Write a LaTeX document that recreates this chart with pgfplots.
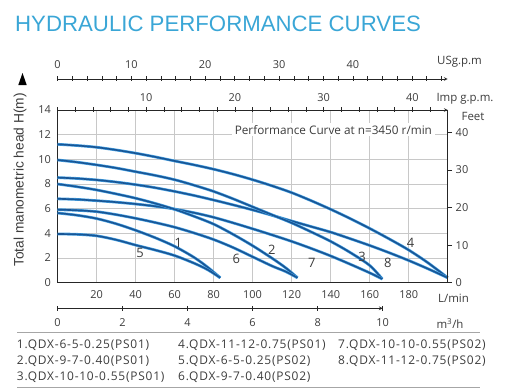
\documentclass[border=0pt]{standalone}
\usepackage{pgfplots}
\pgfplotsset{compat=1.18}
\usepackage{fontspec}
\setmainfont{Open Sans}
\newfontfamily\arialf{Liberation Sans}
\newfontfamily\legfont{Open Sans}[LetterSpace=6.5]
\definecolor{titleblue}{RGB}{58,166,214}
\definecolor{curvedark}{RGB}{24,86,150}
\definecolor{curvelight}{RGB}{70,160,225}
\definecolor{txtgray}{RGB}{60,60,60}
\definecolor{gridgray}{RGB}{200,200,200}
\pgfplotsset{
  curve/.style={draw=curvedark, line width=1.6bp, smooth, tension=0.5, no markers,
    preaction={draw=curvelight, line width=2.8bp}},
  sec/.style={scale only axis, axis y line=none, ymin=0, ymax=1, height=2bp,
    axis line style={-, line width=0.7bp, black!85}, tick align=outside,
    major tick length=5bp, minor tick length=5bp,
    tick style={line width=0.6bp, black!85},
    /pgf/number format/assume math mode=true,
    tick label style={font=\fontsize{11}{12}\selectfont, text=txtgray}},
}
\begin{document}
\begin{tikzpicture}[x=1bp,y=1bp]
\useasboundingbox (0,0) rectangle (509,388);
% title
\node[anchor=base west, font=\arialf\fontsize{22.3}{24}\selectfont, text=titleblue, inner sep=0] at (15,356.3) {HYDRAULIC PERFORMANCE CURVES};

% main axis
\begin{axis}[
  at={(57.5bp,105.3bp)}, anchor=south west,
  width=390.2bp, height=172.7bp, scale only axis,
  xmin=0, xmax=200, ymin=0, ymax=14,
  xtick={0,20,...,200},
  xticklabels={{},20,40,60,80,100,120,140,160,180,{}},
  ytick={0,2,...,14},
  grid=major, grid style={gridgray, line width=0.6bp},
  major tick length=0pt,
  axis line style={line width=0.8bp, black!85},
  tick label style={font=\fontsize{11}{12}\selectfont, text=txtgray},
  /pgf/number format/assume math mode=true,
  xticklabel style={yshift=-4bp},
  yticklabel style={xshift=-3bp},
  clip=false,
]
% 4
\addplot[curve] coordinates {(0,11.22)(10,11.12)(20,10.98)(30,10.76)(40,10.5)(50,10.2)(60,9.87)(70,9.55)(80,9.2)(90,8.8)(100,8.35)(110,7.85)(120,7.3)(130,6.65)(140,5.95)(150,5.2)(160,4.4)(170,3.55)(180,2.65)(190,1.6)(200,0.4)};
% 8
\addplot[curve] coordinates {(0,8.52)(10,8.45)(20,8.33)(30,8.16)(40,7.95)(50,7.7)(60,7.4)(70,7.07)(80,6.7)(90,6.31)(100,5.9)(110,5.46)(120,5.0)(130,4.55)(140,4.1)(150,3.57)(160,3.02)(170,2.43)(180,1.8)(190,1.12)(200,0.4)};
% 3
\addplot[curve] coordinates {(0,9.95)(10,9.77)(20,9.55)(30,9.3)(40,9.0)(50,8.7)(60,8.35)(70,7.9)(80,7.4)(90,6.8)(100,6.15)(110,5.5)(120,4.85)(130,4.12)(140,3.35)(150,2.45)(160,1.4)(166.5,0.3)};
% 7
\addplot[curve] coordinates {(0,6.8)(10,6.75)(20,6.65)(30,6.53)(40,6.38)(50,6.2)(60,5.97)(70,5.67)(80,5.3)(90,4.85)(100,4.37)(110,3.87)(120,3.35)(130,2.78)(140,2.17)(150,1.5)(160,0.8)(166.5,0.3)};
% 2
\addplot[curve] coordinates {(0,8.0)(10,7.78)(20,7.52)(30,7.2)(40,6.85)(50,6.43)(60,5.95)(70,5.38)(80,4.75)(90,3.92)(100,3.0)(110,1.98)(117,1.2)(123,0.4)};
% 6
\addplot[curve] coordinates {(0,5.92)(10,5.87)(20,5.76)(30,5.52)(40,5.22)(50,4.88)(60,4.5)(70,4.03)(80,3.5)(90,2.85)(100,2.1)(110,1.35)(117,0.9)(123,0.4)};
% 1
\addplot[curve] coordinates {(0,5.65)(10,5.47)(20,5.2)(30,4.78)(40,4.25)(50,3.65)(60,2.95)(70,2.05)(77,1.25)(83.4,0.4)};
% 5
\addplot[curve] coordinates {(0,3.95)(10,3.92)(20,3.8)(30,3.48)(40,3.05)(50,2.65)(60,2.2)(70,1.58)(77,1.05)(83.4,0.4)};
\begin{scope}[every node/.style={font=\fontsize{13}{13}\selectfont, text=txtgray}]
\node at (axis cs:61.9,3.22) {1};
\node at (axis cs:42.3,2.38) {5};
\node at (axis cs:91.6,1.9) {6};
\node at (axis cs:109.9,2.65) {2};
\node at (axis cs:130.4,1.57) {7};
\node at (axis cs:156.1,2.1) {3};
\node at (axis cs:169.3,1.57) {8};
\node at (axis cs:181,3.25) {4};
\end{scope}
\node[fill=white, inner xsep=3bp, inner ysep=2bp, font=\fontsize{11.8}{12}\selectfont, text=txtgray] at (axis cs:141.4,12.4) {Performance Curve at n=3450 r/min};
\end{axis}

% feet axis
\begin{axis}[
  at={(57.5bp,105.3bp)}, anchor=south west,
  width=390.2bp, height=172.7bp, scale only axis,
  xmin=0, xmax=200, ymin=0, ymax=45.93,
  axis x line=none, axis y line=right,
  axis line style={-, line width=0.8bp, black!85},
  ytick={0,10,...,40}, tick align=outside, major tick length=4.5bp,
  tick style={line width=0.6bp, black!85},
  tick label style={font=\fontsize{11}{12}\selectfont, text=txtgray},
  /pgf/number format/assume math mode=true,
]
\end{axis}

% USgpm axis
\begin{axis}[sec, at={(57.5bp,309bp)}, anchor=north west, width=390.2bp,
  axis x line=top, xmin=0, xmax=52.834,
  xtick={0,10,...,40}, minor xtick={2,4,...,52},
  xticklabel style={yshift=4bp}]
\end{axis}
% Imp gpm axis
\begin{axis}[sec, at={(57.5bp,278bp)}, anchor=north west, width=390.2bp,
  axis x line=top, xmin=0, xmax=43.994,
  xtick={10,20,30,40}, minor xtick={0,2,...,42},
  xticklabel style={yshift=2.5bp}]
\end{axis}
% m3/h axis
\begin{axis}[sec, at={(57.5bp,79.7bp)}, anchor=south west, width=325.2bp,
  axis x line=bottom, xmin=0, xmax=10,
  xtick={0,2,...,10},
  xticklabel style={yshift=-4.5bp}]
\end{axis}

% unit labels
\begin{scope}[every node/.style={font=\fontsize{11.5}{12}\selectfont, text=txtgray}]
\node at (459.5,326) {USg.p.m};
\node at (465,289.5) {Imp g.p.m.};
\node at (473,272) {Feet};
\node at (453.5,90) {L/min};
\node at (450,64.7) {m\textsuperscript{3}/h};
\end{scope}

% y label
\node[rotate=90, font=\arialf\fontsize{13.8}{14}\selectfont, text=txtgray] at (20,208) {Total manometric head H(m)};
\fill[black] (18.3,303) -- (26.7,303) -- (22.5,315) -- cycle;

% legend
\draw[gray!70, line width=0.8bp] (17,55.7) -- (480,55.7);
\draw[gray!70, line width=0.8bp] (17,0.7) -- (480,0.7);
\begin{scope}[every node/.style={anchor=west, inner sep=0, font=\legfont\fontsize{12}{12}\selectfont, text=txtgray}]
\node at (16.7,43) {1.QDX-6-5-0.25(PS01)};
\node at (16.7,27.3) {2.QDX-9-7-0.40(PS01)};
\node at (16.7,11.3) {3.QDX-10-10-0.55(PS01)};
\node at (178,43) {4.QDX-11-12-0.75(PS01)};
\node at (178,27.3) {5.QDX-6-5-0.25(PS02)};
\node at (178,11.3) {6.QDX-9-7-0.40(PS02)};
\node at (338,43) {7.QDX-10-10-0.55(PS02)};
\node at (338,27.3) {8.QDX-11-12-0.75(PS02)};
\end{scope}
\end{tikzpicture}
\end{document}
